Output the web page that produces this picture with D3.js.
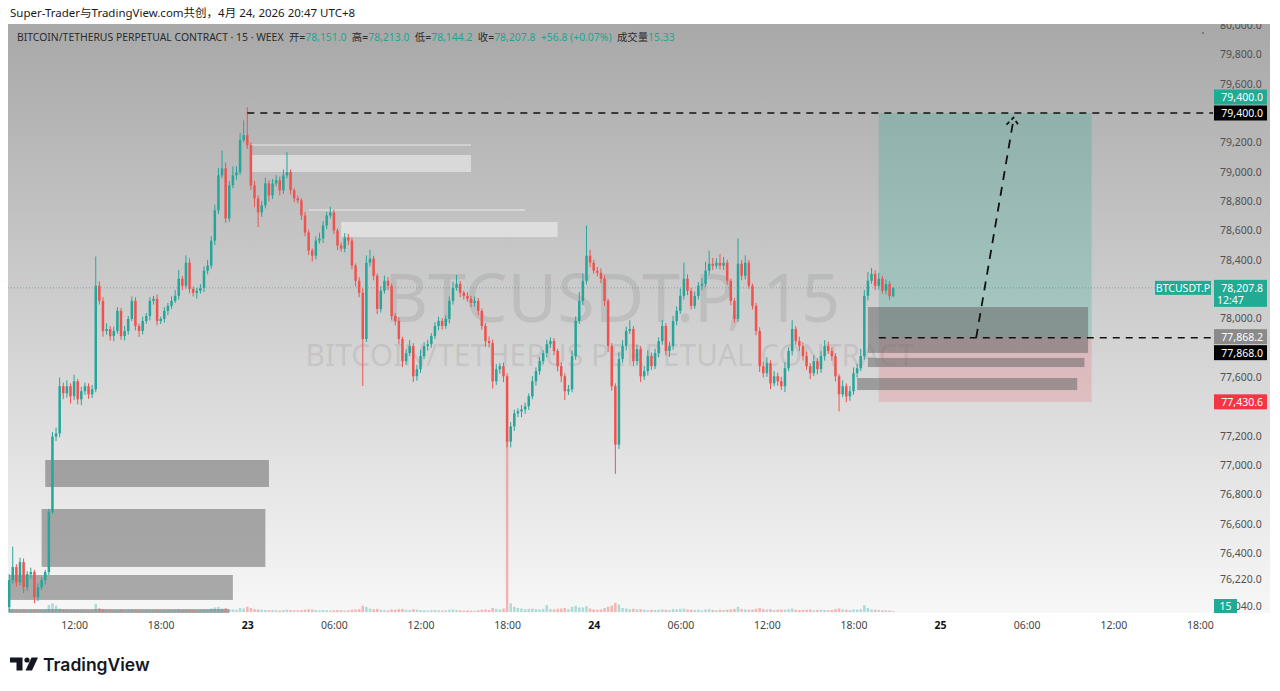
<!DOCTYPE html>
<html><head><meta charset="utf-8">
<script src="https://cdn.jsdelivr.net/npm/d3@7"></script>
<style>
body{margin:0;background:#fff}
svg{display:block;font-family:"Noto Sans","Noto Sans CJK SC",sans-serif}
</style></head>
<body><svg id="c" width="1280" height="691"></svg>
<script>
// ---------------- DATA ----------------
const startTime = "2026-04-22 07:30";   // first 15m bar (UTC+8 wall time)
const firstOpen = 76030;
const closes = [
76215,76304,76201,76338,76167,76256,76270,76098,76167,76215,
76270,76681,77194,77215,77537,77489,77537,77468,77571,77448,
77503,77537,77482,77516,78222,78119,77914,77927,77879,77914,
78051,77879,77914,77996,78119,77948,77914,77982,78016,78119,
78133,77982,77996,78051,78085,78119,78153,78270,78222,78379,
78201,78174,78188,78208,78325,78359,78530,78736,78975,79023,
78681,78907,78975,78996,79215,79249,79181,78907,78818,78722,
78770,78920,78838,78920,78941,78873,78975,78996,78873,78818,
78804,78701,78585,78462,78427,78530,78544,78633,78701,78722,
78599,78496,78475,78551,78530,78359,78256,78174,77859,78379,
78407,78290,78064,78188,78256,78222,78016,77982,77859,77708,
77763,77811,77605,77653,77742,77811,77824,77879,77948,77982,
77948,77996,78119,78208,78235,78174,78153,78133,78105,78119,
78051,77948,77845,77831,77571,77653,77674,77605,77160,77263,
77352,77366,77379,77400,77468,77571,77640,77708,77763,77824,
77845,77777,77674,77605,77503,77516,77742,77982,78119,78256,
78427,78379,78325,78311,78270,78119,77811,77537,77139,77722,
77811,77914,77927,77708,77790,77605,77640,77742,77674,77763,
77845,77948,77777,77811,77982,78051,78153,78270,78188,78085,
78153,78222,78235,78325,78372,78359,78379,78359,78379,78256,
78119,77996,78372,78290,78379,78222,78085,77914,77674,77626,
77694,77557,77605,77571,77537,77660,77777,77927,77845,77811,
77742,77674,77626,77708,77653,77742,77811,77777,77742,77605,
77482,77537,77468,77503,77626,77660,77742,78153,78256,78304,
78222,78270,78188,78235,78151,78207.8
];
const wickUp = [
40,140,20,30,25,20,30,15,25,20,
15,20,30,40,60,25,40,20,45,15,
30,25,20,30,200,30,25,40,20,30,
25,20,35,20,30,25,15,30,20,25,
20,30,15,25,20,30,40,60,20,50,
30,15,20,25,30,40,30,40,50,120,
40,30,60,40,50,100,190,20,30,20,
30,40,20,30,35,25,40,137,20,15,
20,15,25,20,15,30,40,30,25,40,
20,15,20,30,25,20,15,25,30,50,
60,20,15,30,35,25,15,20,25,15,
25,40,20,30,45,25,30,20,25,30,
20,25,30,40,60,20,15,25,20,30,
20,15,20,30,25,35,20,25,20,30,
25,20,30,25,20,35,25,30,20,30,
25,20,15,25,20,30,40,30,60,50,
206,40,20,25,30,20,15,20,20,50,
40,30,60,20,30,20,35,40,25,30,
25,40,20,30,35,30,50,110,30,20,
30,25,40,60,90,40,30,60,40,20,
15,20,172,25,50,20,15,20,25,30,
40,20,35,25,30,40,25,60,20,30,
25,30,20,40,20,35,40,30,25,20,
15,40,20,35,40,30,50,40,60,40,
25,40,20,30,20,5.2
];
const wickDown = [
35,25,30,20,40,25,30,40,25,20,
30,20,15,30,25,40,30,50,25,35,
40,25,30,25,20,25,40,25,30,35,
20,25,30,25,15,30,40,25,20,30,
25,30,20,25,30,20,15,25,30,20,
30,25,40,20,30,25,20,30,25,20,
30,25,20,30,20,15,25,30,60,100,
30,20,40,25,20,35,25,20,30,25,
20,30,25,30,40,25,20,30,25,20,
25,30,20,25,30,25,40,30,320,20,
25,30,35,25,20,30,25,30,35,40,
25,20,40,30,25,20,30,25,20,30,
25,20,30,25,20,30,25,20,30,25,
30,25,40,30,50,25,30,40,40,40,
30,25,40,30,25,20,30,25,20,30,
25,30,35,40,60,25,20,25,20,30,
25,30,20,25,30,35,40,30,200,30,
25,30,20,35,30,40,25,30,25,20,
30,25,30,40,25,30,20,25,30,25,
20,25,30,20,25,30,20,25,30,25,
30,25,20,30,25,20,25,30,40,30,
25,40,20,30,25,40,20,30,25,35,
30,25,40,20,35,25,30,20,30,35,
116,20,40,30,25,30,20,25,30,20,
30,25,20,25,25,6.8
];
const volumes = [
60,45,30,35,40,25,30,35,25,30,
40,120,150,110,60,40,35,30,35,25,
30,25,20,25,140,70,50,30,35,25,
30,35,25,30,35,30,25,20,25,30,
25,30,20,25,30,25,30,45,35,40,
35,30,25,30,35,40,60,80,90,60,
70,50,45,40,70,60,90,70,50,45,
40,35,30,35,30,25,35,40,35,30,
30,35,40,50,45,35,30,35,30,25,
30,35,30,25,30,40,45,50,110,90,
60,50,55,40,35,30,45,40,50,55,
40,35,50,40,35,30,25,30,35,30,
25,30,40,45,35,30,25,30,25,20,
30,40,45,35,70,55,45,60,3000,150,
90,70,60,50,55,60,50,45,55,120,
50,45,55,60,70,50,90,110,80,80,
100,60,45,40,45,70,90,110,160,130,
70,60,50,55,45,50,40,35,40,35,
40,45,40,35,50,45,55,60,45,40,
35,40,30,45,50,35,30,40,35,40,
45,55,90,50,45,40,45,55,70,50,
45,50,35,40,45,40,50,60,40,35,
35,40,45,30,35,40,35,30,35,50,
60,45,40,35,45,40,50,120,70,45,
40,35,30,30,25,15.33
];
const priceTicks = [80000,79800,79600,79200,79000,78800,78600,78400,78000,77600,77200,77000,76800,76600,76400,76220,76040];
const timeTicks = ["2026-04-22 12:00","2026-04-22 18:00","2026-04-23 00:00","2026-04-23 06:00","2026-04-23 12:00","2026-04-23 18:00",
  "2026-04-24 00:00","2026-04-24 06:00","2026-04-24 12:00","2026-04-24 18:00","2026-04-25 00:00","2026-04-25 06:00","2026-04-25 12:00","2026-04-25 18:00"];
// zones: [start, end, top price, bottom price]
const grayZones = [
  ["2026-04-22 10:00","2026-04-23 01:30",77034,76850],
  ["2026-04-22 09:45","2026-04-23 01:15",76700,76305],
  ["2026-04-22 07:30","2026-04-22 23:00",76250,76080],
  ["2026-04-22 07:30","2026-04-22 22:45",76018,75991],
  ["2026-04-24 19:00","2026-04-25 10:15",78077,77764],
  ["2026-04-24 19:00","2026-04-25 10:00",77730,77668],
  ["2026-04-24 18:15","2026-04-25 09:30",77593,77511]
];
const lightZones = [
  ["2026-04-23 00:15","2026-04-23 15:30",79114,78998],
  ["2026-04-23 06:30","2026-04-23 21:30",78657,78555]
];
const lightLines = [
  ["2026-04-23 00:15","2026-04-23 15:30",79182],
  ["2026-04-23 04:15","2026-04-23 19:15",78739]
];
const longPosition = {start:"2026-04-24 19:45", end:"2026-04-25 10:30", target:79400, entry:77868.2, stop:77430.6};
const levelLines = [["2026-04-23 00:00",79400],["2026-04-24 19:45",77868]];
const arrowPath = [["2026-04-25 02:30",77868],["2026-04-25 05:05",79355]];
const lastPrice = 78207.8;
const legendParts = [
  ["BITCOIN/TETHERUS PERPETUAL CONTRACT · 15 · WEEX  开=","l"],["78,151.0","v"],
  ["  高=","l"],["78,213.0","v"],["  低=","l"],["78,144.2","v"],["  收=","l"],["78,207.8","v"],
  ["  +56.8 (+0.07%)","v"],["  成交量","l"],["15.33","v"]
];
const axisBadges = [
  {price:79400, text:"79,400.0", kind:"teal", dy:-16},
  {price:79400, text:"79,400.0", kind:"black", dy:0},
  {price:77868.2, text:"77,868.2", kind:"gray", dy:-1},
  {price:77868.2, text:"77,868.0", kind:"black", dy:15},
  {price:77430.6, text:"77,430.6", kind:"red", dy:0}
];

// ---------------- CHART ----------------
const svg = d3.select("#c");
const P = {left:8, right:1212, top:24, bottom:613, axisRight:1270};
const parseT = d3.utcParse("%Y-%m-%d %H:%M");
const x = d3.scaleUtc().domain([parseT("2026-04-23 00:00"), parseT("2026-04-24 00:00")]).range([247.3, 593.7]);
const y = d3.scaleLinear().domain([76400, 79400]).range([553, 113]);
const vy = d3.scaleLinear().domain([0, 3000]).range([612, 440]);
const t0 = parseT(startTime);
const bars = closes.map((c,i)=>{
  const o = i ? closes[i-1] : firstOpen;
  return {t:new Date(+t0 + i*9e5), o, c, h:Math.max(o,c)+wickUp[i], l:Math.min(o,c)-wickDown[i], v:volumes[i]};
});
const GREEN="#26a69a", RED="#ef5350";

const defs = svg.append("defs");
const g = defs.append("linearGradient").attr("id","bg").attr("gradientUnits","userSpaceOnUse")
  .attr("x1",0).attr("y1",P.top).attr("x2",0).attr("y2",P.bottom);
g.append("stop").attr("offset",0).attr("stop-color","#a8a8a8");
g.append("stop").attr("offset",1).attr("stop-color","#f7f7f7");
defs.append("clipPath").attr("id","plot").append("rect")
  .attr("x",P.left).attr("y",P.top).attr("width",P.right-P.left).attr("height",P.bottom-P.top);
defs.append("clipPath").attr("id","pane").append("rect")
  .attr("x",0).attr("y",P.top).attr("width",1280).attr("height",P.bottom-P.top);

svg.append("rect").attr("width",1280).attr("height",691).attr("fill","#fff");
svg.append("rect").attr("x",P.left).attr("y",P.top).attr("width",P.axisRight-P.left).attr("height",P.bottom-P.top).attr("fill","url(#bg)");

const plot = svg.append("g").attr("clip-path","url(#plot)");

// watermark
plot.append("text").attr("x",612).attr("y",322).attr("text-anchor","middle")
  .attr("font-size",68).attr("fill","rgba(90,90,90,0.14)").text("BTCUSDT.P, 15");
plot.append("text").attr("x",610).attr("y",366).attr("text-anchor","middle")
  .attr("font-size",30).attr("fill","rgba(90,90,90,0.14)").text("BITCOIN/TETHERUS PERPETUAL CONTRACT");

// long position
const lpX0 = x(parseT(longPosition.start)), lpX1 = x(parseT(longPosition.end));
plot.append("rect").attr("x",lpX0).attr("width",lpX1-lpX0)
  .attr("y",y(longPosition.target)).attr("height",y(longPosition.entry)-y(longPosition.target))
  .attr("fill","rgba(34,171,148,0.24)");
plot.append("rect").attr("x",lpX0).attr("width",lpX1-lpX0)
  .attr("y",y(longPosition.entry)).attr("height",y(longPosition.stop)-y(longPosition.entry))
  .attr("fill","rgba(242,54,69,0.17)");

// light zones
plot.selectAll(".lz").data(lightZones).join("rect")
  .attr("x",d=>x(parseT(d[0]))).attr("width",d=>x(parseT(d[1]))-x(parseT(d[0])))
  .attr("y",d=>y(d[2])).attr("height",d=>y(d[3])-y(d[2]))
  .attr("fill","rgba(255,255,255,0.45)");
plot.selectAll(".ll").data(lightLines).join("line")
  .attr("x1",d=>x(parseT(d[0]))).attr("x2",d=>x(parseT(d[1])))
  .attr("y1",d=>y(d[2])).attr("y2",d=>y(d[2]))
  .attr("stroke","rgba(255,255,255,0.45)").attr("stroke-width",1.5);

// gray zones
plot.selectAll(".gz").data(grayZones).join("rect")
  .attr("x",d=>x(parseT(d[0]))).attr("width",d=>x(parseT(d[1]))-x(parseT(d[0])))
  .attr("y",d=>y(d[2])).attr("height",d=>y(d[3])-y(d[2]))
  .attr("fill","rgba(105,105,105,0.55)");

// current price line
plot.append("line").attr("x1",P.left).attr("x2",1155).attr("y1",y(lastPrice)).attr("y2",y(lastPrice))
  .attr("stroke","rgba(60,130,140,0.55)").attr("stroke-width",1).attr("stroke-dasharray","1,2");

// volume
const bw = 2.5;
plot.selectAll(".vol").data(bars).join("rect")
  .attr("x",d=>x(d.t)-bw/2).attr("width",bw)
  .attr("y",d=>vy(d.v)).attr("height",d=>vy(0)-vy(d.v))
  .attr("fill",d=>d.c>=d.o?"rgba(38,166,154,0.35)":"rgba(239,83,80,0.4)");

// candles
const cg = plot.selectAll(".candle").data(bars).join("g");
cg.append("line").attr("x1",d=>x(d.t)).attr("x2",d=>x(d.t))
  .attr("y1",d=>y(d.h)).attr("y2",d=>y(d.l))
  .attr("stroke",d=>d.c>=d.o?GREEN:RED).attr("stroke-width",1);
cg.append("rect").attr("x",d=>x(d.t)-bw/2).attr("width",bw)
  .attr("y",d=>y(Math.max(d.o,d.c))).attr("height",d=>Math.max(1,Math.abs(y(d.o)-y(d.c))))
  .attr("fill",d=>d.c>=d.o?GREEN:RED);

// dashed level lines
const pane = svg.append("g").attr("clip-path","url(#pane)");
pane.selectAll(".lvl").data(levelLines).join("line")
  .attr("x1",d=>x(parseT(d[0]))).attr("x2",1213)
  .attr("y1",d=>y(d[1])).attr("y2",d=>y(d[1]))
  .attr("stroke","#111").attr("stroke-width",1.5).attr("stroke-dasharray","7,6");

// arrow
const a0=[x(parseT(arrowPath[0][0])),y(arrowPath[0][1])], a1=[x(parseT(arrowPath[1][0])),y(arrowPath[1][1])];
plot.append("line").attr("x1",a0[0]).attr("y1",a0[1]).attr("x2",a1[0]).attr("y2",a1[1])
  .attr("stroke","#111").attr("stroke-width",1.8).attr("stroke-dasharray","9,7");
plot.append("path").attr("d",`M${a1[0]-7},${a1[1]+5}L${a1[0]},${a1[1]-2}L${a1[0]+6},${a1[1]+7}`)
  .attr("fill","none").attr("stroke","#111").attr("stroke-width",1.8).attr("stroke-dasharray","4,3");

// y axis
const yAxisG = pane.append("g").attr("transform","translate(1214,0)")
  .call(d3.axisRight(y).tickValues(priceTicks).tickFormat(d3.format(",.1f")).tickSize(0).tickPadding(6));
yAxisG.select(".domain").remove();
yAxisG.selectAll("text").attr("font-size",10.5).attr("fill","#505050").attr("font-family","Noto Sans");

// axis badges
const badgeColor = {teal:"#22ab94", black:"#000", gray:"#8a8a8a", red:"#f23645"};
axisBadges.forEach(b=>{
  const cy = y(b.price)+b.dy;
  pane.append("rect").attr("x",1214).attr("y",cy-7.5).attr("width",53).attr("height",15).attr("fill",badgeColor[b.kind]);
  pane.append("text").attr("x",1263).attr("y",cy+4).attr("text-anchor","end").attr("font-size",10.5)
    .attr("fill","#fff").text(b.text);
});
// last price badge
const ly = y(lastPrice);
pane.append("rect").attr("x",1155).attr("y",ly-7).attr("width",56).attr("height",14).attr("fill","#22ab94");
pane.append("text").attr("x",1183).attr("y",ly+4).attr("text-anchor","middle").attr("font-size",10.5).attr("fill","#fff").text("BTCUSDT.P");
pane.append("rect").attr("x",1214).attr("y",ly-8).attr("width",53).attr("height",27).attr("fill","#22ab94");
pane.append("text").attr("x",1263).attr("y",ly+4).attr("text-anchor","end").attr("font-size",10.5).attr("fill","#fff").text(d3.format(",.1f")(lastPrice));
pane.append("text").attr("x",1217).attr("y",ly+16).attr("font-size",10.5).attr("fill","#fff").text("12:47");
// volume badge
pane.append("rect").attr("x",1214).attr("y",vy(0)-13).attr("width",23).attr("height",14).attr("fill","#22ab94");
pane.append("text").attr("x",1225.5).attr("y",vy(0)-2).attr("text-anchor","middle").attr("font-size",10.5).attr("fill","#fff").text(Math.floor(volumes[volumes.length-1]));
svg.append("circle").attr("cx",1203).attr("cy",33).attr("r",0.8).attr("fill","#444");

// x axis
const tickDates = timeTicks.map(parseT);
const xAxisG = svg.append("g").attr("transform",`translate(0,${P.bottom})`)
  .call(d3.axisBottom(x).tickValues(tickDates).tickSize(0).tickPadding(9)
    .tickFormat(d=>d.getUTCHours()===0 ? d3.utcFormat("%-d")(d) : d3.utcFormat("%H:%M")(d)));
xAxisG.select(".domain").remove();
xAxisG.selectAll("text").attr("font-size",10.5).attr("font-family","Noto Sans")
  .attr("fill",d=>d.getUTCHours()===0?"#111":"#444")
  .attr("font-weight",d=>d.getUTCHours()===0?"bold":"normal");

// header
svg.append("text").attr("x",10).attr("y",17).attr("font-size",11.5).attr("fill","#1a1a1a")
  .text("Super-Trader与TradingView.com共创，4月 24, 2026 20:47 UTC+8");
const leg = svg.append("text").attr("x",17).attr("y",41).attr("font-size",10.4).attr("xml:space","preserve");
leg.selectAll("tspan").data(legendParts).join("tspan")
  .attr("fill",d=>d[1]==="v"?"#19a890":"#2a2a2a").text(d=>d[0]);

// TradingView logo
const logo = svg.append("g").attr("fill","#131722");
logo.append("path").attr("d","M10,657.5H22.5V670.5H16.5V662.5H10Z");
logo.append("circle").attr("cx",27).attr("cy",660).attr("r",2.6);
logo.append("path").attr("d","M31.5,657.5H38L32,670.5H25.5Z");
svg.append("text").attr("x",43).attr("y",670.5).attr("font-size",17.5).attr("font-weight",600)
  .attr("font-family","Inter").attr("fill","#131722").text("TradingView");
</script>
</body></html>
